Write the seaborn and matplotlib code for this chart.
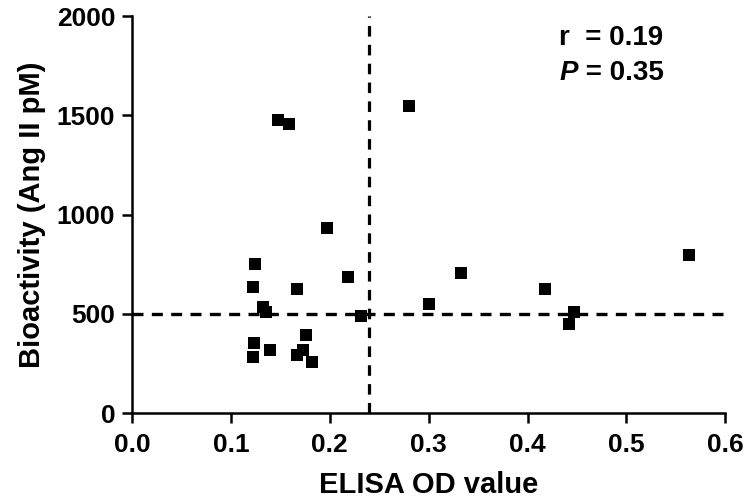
import seaborn as sns
import pandas as pd
from matplotlib import pyplot as plt

# ELISA OD vs bioactivity
elisa_od = [0.148, 0.159, 0.197, 0.124, 0.122, 0.167, 0.218, 0.132, 0.136,
            0.232, 0.176, 0.123, 0.140, 0.122, 0.167, 0.173, 0.182, 0.280,
            0.300, 0.333, 0.418, 0.447, 0.442, 0.563]
bioactivity = [1476, 1459, 935, 750, 636, 628, 684, 535, 510,
               489, 393, 354, 317, 284, 292, 317, 259, 1547,
               549, 704, 628, 510, 451, 799]

od_cutoff = 0.24
bio_cutoff = 500
x_ticks = [0.0, 0.1, 0.2, 0.3, 0.4, 0.5, 0.6]
y_ticks = [0, 500, 1000, 1500, 2000]

df = pd.DataFrame({"od": elisa_od, "bio": bioactivity})

sns.set_style("ticks")
plt.rcParams['font.family'] = ['Liberation Sans', 'DejaVu Sans']
plt.rcParams['font.weight'] = 'bold'
plt.rcParams['text.color'] = 'black'
plt.rcParams['axes.labelcolor'] = 'black'

fig = plt.figure(figsize=(7.5, 5.04), dpi=100)
ax = fig.add_axes([0.176, 0.180, 0.791, 0.788])

sns.scatterplot(data=df, x="od", y="bio", marker="s", color="black",
                s=80, linewidth=0, ax=ax, zorder=3, clip_on=False)

# cut-off lines
ax.axhline(bio_cutoff, color="black", lw=2.4, ls=(0, (3.3, 2.5)), zorder=2)
ax.axvline(od_cutoff, color="black", lw=2.3, ls=(0, (3.3, 2.6)), zorder=2)

ax.set_xlim(0, 0.6)
ax.set_ylim(0, 2000)
ax.set_xticks(x_ticks)
ax.set_xticklabels([f"{t:.1f}" for t in x_ticks])
ax.set_yticks(y_ticks)

for side in ["top", "right"]:
    ax.spines[side].set_visible(False)
for side in ["left", "bottom"]:
    ax.spines[side].set_linewidth(1.8)
    ax.spines[side].set_color("black")
ax.tick_params(axis="both", length=7, width=1.8, color="black",
               labelsize=19, labelcolor="black")
ax.tick_params(axis="x", pad=7)
ax.tick_params(axis="y", pad=5)
for lab in ax.get_xticklabels() + ax.get_yticklabels():
    lab.set_fontweight("bold")

ax.set_xlabel("ELISA OD value", fontsize=21, fontweight="bold", labelpad=10)
ax.set_ylabel("Bioactivity (Ang II pM)", fontsize=21, fontweight="bold", labelpad=8)

ax.text(0.72, 0.945, "r  = 0.19", transform=ax.transAxes, fontsize=20,
        fontweight="bold", va="center", ha="left")
p = ax.text(0.72, 0.856, "P", transform=ax.transAxes, fontsize=20,
            fontweight="bold", style="italic", va="center", ha="left")
ax.annotate(" = 0.35", xy=(1, 0), xycoords=p, va="bottom", ha="left",
            fontsize=20, fontweight="bold")

plt.savefig("out.png", dpi=100)
